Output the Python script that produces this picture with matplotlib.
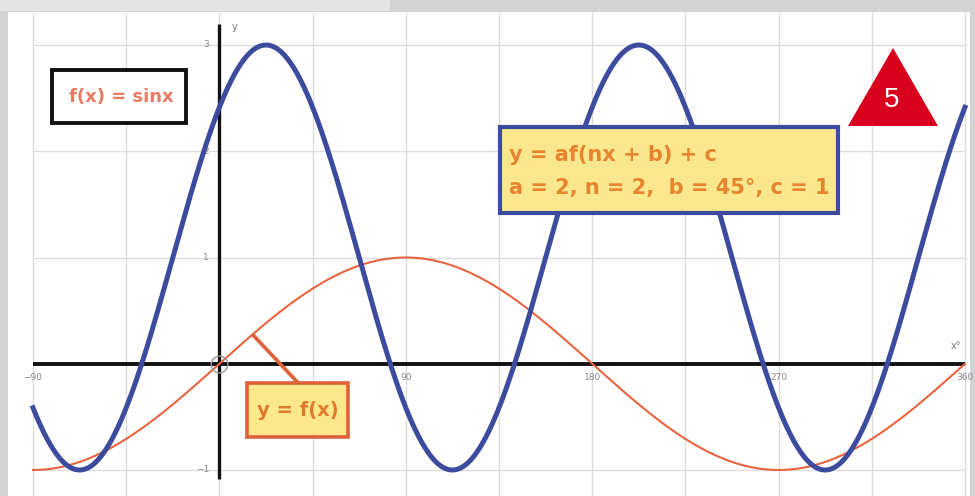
import numpy as np
import matplotlib.pyplot as plt
from matplotlib.patches import Rectangle, Polygon

# transformation parameters for y = a f(nx + b) + c
a = 2
n = 2
b = 45
c = 1

x_min, x_max = -90, 360
x_ticks = [-90, 90, 180, 270, 360]
y_ticks = [-1, 1, 2, 3]
grid_x = [-90, -45, 0, 45, 90, 135, 180, 225, 270, 315, 360]
grid_y = [-1, 1, 2, 3]

blue = "#3d4b9e"
red = "#e6643f"
orange = "#e8842e"

W, H = 975, 496


def fx(px):
    return px / W


def fy(py):
    return 1 - py / H


fig = plt.figure(figsize=(W / 100, H / 100), dpi=100)
fig.patch.set_facecolor("#d3d3d3")
# lighter strip top-left
fig.patches.append(Rectangle((0, fy(11)), fx(390), 11 / H, transform=fig.transFigure,
                             facecolor="#e4e4e4", edgecolor="none", zorder=0))

# axes covering the white sheet, limits chosen so x=-90..360 and y=-1..3 land on the grid
ax = fig.add_axes([fx(8), 0, fx(962), fy(12)])
ax.set_facecolor("white")
ppd = 932 / 450
ppu = 425 / 4
ax.set_xlim(-90 - 25 / ppd, 360 + 5 / ppd)
ax.set_ylim(-1 - 26 / ppu, 3 + 33 / ppu)
for s in ax.spines.values():
    s.set_visible(False)
ax.set_xticks([])
ax.set_yticks([])

ylo, yhi = ax.get_ylim()
ax.vlines(grid_x, ylo, yhi, color="#dcdcdc", lw=1, zorder=1)
ax.hlines(grid_y, x_min, x_max, color="#dcdcdc", lw=1, zorder=1)

# axes lines
ax.plot([x_min, x_max], [0, 0], color="#111111", lw=2.8, zorder=3, solid_capstyle="butt")
ax.plot([0, 0], [-1.08, 3.2], color="#111111", lw=2.4, zorder=3, solid_capstyle="butt")

for t in x_ticks:
    ax.text(t, -0.09, str(t).replace("-", "\u2212"), ha="center", va="top", fontsize=6.5,
            color="#888888", zorder=4)
for t in y_ticks:
    ax.text(-5, t, str(t).replace("-", "\u2212"), ha="right", va="center", fontsize=6.5,
            color="#888888", zorder=4)
ax.text(6, 3.17, "y", fontsize=7, color="#777777", ha="left", va="center")
ax.text(358, 0.17, "x°", fontsize=7, color="#777777", ha="right", va="center")

xs = np.linspace(x_min, x_max, 900)
ax.plot(xs, np.sin(np.radians(xs)), color=red, lw=1.5, zorder=5)
ax.plot(xs, a * np.sin(np.radians(n * xs + b)) + c, color=blue, lw=3.6, zorder=6)

# open circle at the origin
ax.plot([0], [0], "o", ms=12, mfc="none", mec="#9a9a9a", mew=1, zorder=7)
# pointer from the sine curve to its label
ax.plot([16, 38], [np.sin(np.radians(16)), -0.18], color="#e0603a", lw=2.6, zorder=7,
        solid_capstyle="butt")


def box(x0, y0, x1, y1, face, edge, lw):
    fig.patches.append(Rectangle((fx(x0), fy(y1)), fx(x1 - x0), (y1 - y0) / H,
                                 transform=fig.transFigure, facecolor=face, edgecolor=edge,
                                 lw=lw, zorder=10))


box(52, 70, 186, 123, "white", "#111111", 2.8)
fig.text(fx(121), fy(97), "f(x) = sinx", ha="center", va="center", fontsize=13,
         fontweight="bold", color="#ea7a62", zorder=11)

box(500, 127, 838, 213, "#fbe88e", "#3d4b9e", 3)
fig.text(fx(509), fy(155), "y = af(nx + b) + c", ha="left", va="center", fontsize=15,
         fontweight="bold", color=orange, zorder=11)
fig.text(fx(509), fy(188), "a = 2, n = 2,  b = 45°, c = 1", ha="left", va="center",
         fontsize=15, fontweight="bold", color=orange, zorder=11)

box(247, 383, 348, 437, "#fde98c", "#e0603a", 2.6)
fig.text(fx(298), fy(410), "y = f(x)", ha="center", va="center", fontsize=14,
         fontweight="bold", color="#e07a2e", zorder=11)

fig.patches.append(Polygon([(fx(848), fy(126)), (fx(938), fy(126)), (fx(893), fy(48))],
                           closed=True, transform=fig.transFigure, facecolor="#d8001c",
                           edgecolor="none", zorder=10))
fig.text(fx(892), fy(100), "5", ha="center", va="center", fontsize=20, color="white",
         family="Liberation Sans", zorder=11)

fig.savefig("out.png", dpi=100)
